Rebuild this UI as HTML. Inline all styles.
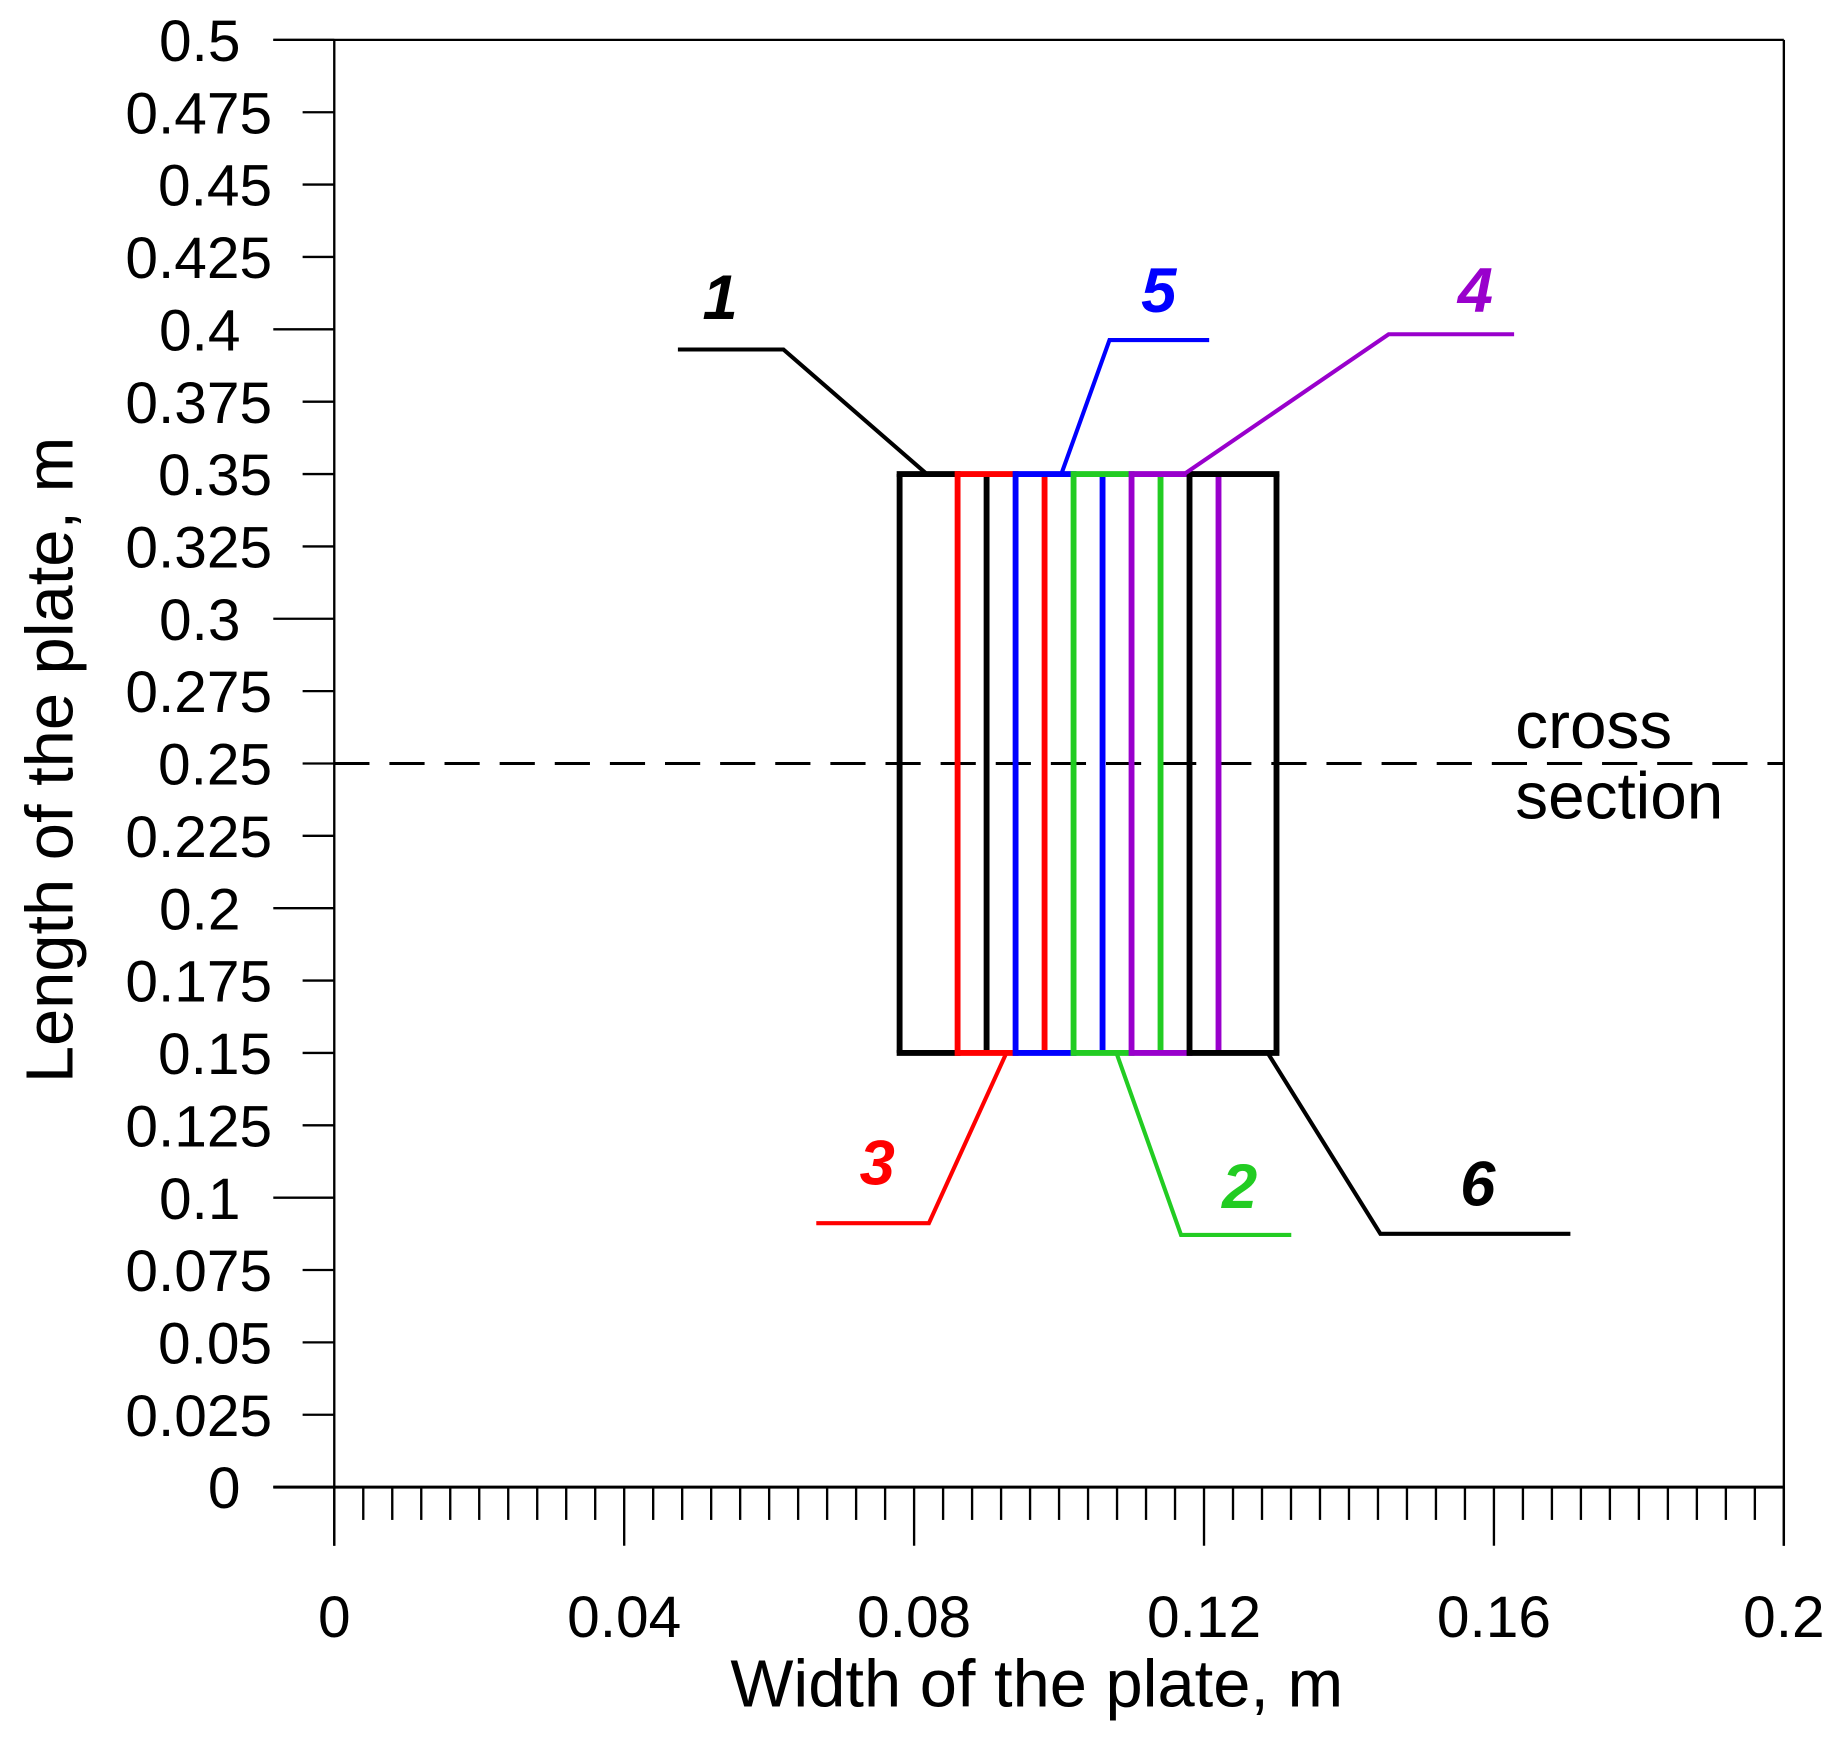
<!DOCTYPE html>
<html><head><meta charset="utf-8"><style>html,body{margin:0;padding:0;background:#fff}svg{display:block}</style></head>
<body>
<svg width="1839" height="1743" viewBox="0 0 1568 1486.2" xmlns="http://www.w3.org/2000/svg" font-family="Liberation Sans, sans-serif">
<g stroke="#000" stroke-width="2" fill="none">
<line x1="233" y1="34" x2="1521" y2="34"/>
<line x1="233" y1="1268" x2="1521" y2="1268" stroke-width="2.5"/>
<line x1="285" y1="34" x2="285" y2="1318"/>
<line x1="1521" y1="34" x2="1521" y2="1318"/>
</g>
<g id="ticks" stroke="#000" stroke-width="2"></g>
<g id="lbl" font-size="50" fill="#000"></g>
<text x="884" y="1455" font-size="57" text-anchor="middle">Width of the plate, m</text>
<text transform="translate(62,648) rotate(-90)" font-size="57" text-anchor="middle">Length of the plate, m</text>
<line x1="285" y1="651" x2="1521" y2="651" stroke="#000" stroke-width="2.5" stroke-dasharray="30,17"/>
<text x="1292" y="638" font-size="56">cross</text>
<text x="1292" y="698" font-size="56">section</text>
<g id="data" stroke-width="5" fill="none"></g>
<g font-size="54" font-weight="bold" font-style="italic" text-anchor="middle">
<text x="614" y="272">1</text>
<text x="988" y="266" fill="#0000ff">5</text>
<text x="1258" y="266" fill="#9900cc">4</text>
<text x="748" y="1010" fill="#ff0000">3</text>
<text x="1057" y="1030" fill="#22cc22">2</text>
<text x="1260" y="1028">6</text>
</g>
<g fill="none" stroke-width="3.5">
<polyline points="578,298 668,298 790,404" stroke="#000"/>
<polyline points="905,404 946,290 1031,290" stroke="#0000ff"/>
<polyline points="1010,404 1184,285 1291,285" stroke="#9900cc"/>
<polyline points="858,898 792,1043 696,1043" stroke="#ff0000"/>
<polyline points="952,898 1007,1053 1101,1053" stroke="#22cc22"/>
<polyline points="1081,898 1177,1052 1339,1052" stroke="#000"/>
</g>
<script>
var ns="http://www.w3.org/2000/svg";
function el(p,t,a,txt){var e=document.createElementNS(ns,t);for(var k in a)e.setAttribute(k,a[k]);if(txt)e.textContent=txt;p.appendChild(e);return e;}
var T=document.getElementById('ticks'),L=document.getElementById('lbl'),D=document.getElementById('data');
var Y=function(v){return 1268-2468*v},X=function(v){return 285+6180*v};
var yl=["0","0.025","0.05","0.075","0.1","0.125","0.15","0.175","0.2","0.225","0.25","0.275","0.3","0.325","0.35","0.375","0.4","0.425","0.45","0.475","0.5"];
for(var i=0;i<=20;i++){var y=Y(i*0.025),maj=i%4==0;
 el(T,'line',{x1:maj?233:258,y1:y,x2:285,y2:y});
 el(L,'text',{x:maj?205:232,y:y+18,'text-anchor':'end'},yl[i]);}
for(var i=0;i<=50;i++){var x=X(i*0.004),maj=i%10==0;
 el(T,'line',{x1:x,y1:1268,x2:x,y2:maj?1318:1296});}
var xl=["0","0.04","0.08","0.12","0.16","0.2"];
for(var i=0;i<6;i++)el(L,'text',{x:X(i*0.04),y:1396,'text-anchor':'middle'},xl[i]);
var K="#000",R="#ff0000",B="#0000ff",G="#22cc22",P="#9900cc";
var v=[[0.078,K],[0.086,R],[0.090,K],[0.094,B],[0.098,R],[0.102,G],[0.106,B],[0.110,P],[0.114,G],[0.118,K],[0.122,P],[0.130,K]];
v.forEach(function(a){el(D,'line',{x1:X(a[0]),y1:Y(0.15),x2:X(a[0]),y2:Y(0.35),stroke:a[1]});});
var h=[[0.078,0.086,K],[0.086,0.094,R],[0.094,0.102,B],[0.102,0.110,G],[0.110,0.118,P],[0.118,0.130,K]];
h.forEach(function(a){[0.15,0.35].forEach(function(yy){el(D,'line',{x1:X(a[0])-2.5,y1:Y(yy),x2:X(a[1])+2.5,y2:Y(yy),stroke:a[2]});});});
</script>
</svg>
</body></html>
